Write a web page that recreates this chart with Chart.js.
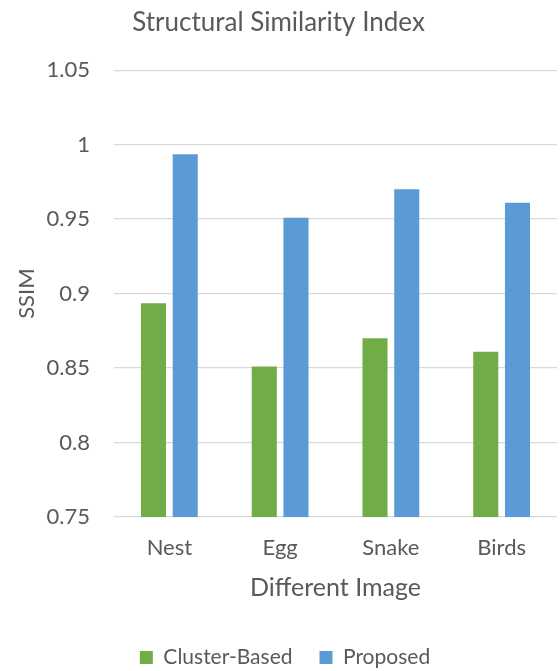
<!DOCTYPE html>
<html>
<head>
<meta charset="utf-8">
<script src="https://cdn.jsdelivr.net/npm/chart.js@4"></script>
<style>
  html, body { margin: 0; padding: 0; background: #ffffff; }
  #wrap { width: 560px; height: 671px; position: relative; }
</style>
</head>
<body>
<div id="wrap"><canvas id="c" width="560" height="671"></canvas></div>
<script>
// Image categories along the x axis
const categories = ['Nest', 'Egg', 'Snake', 'Birds'];
// SSIM per method
const clusterBased = [0.8935, 0.851, 0.870, 0.861];
const proposed = [0.9935, 0.951, 0.970, 0.961];
// Y axis range and step
const yTicks = { min: 0.75, max: 1.05, step: 0.05 };

const textColor = '#595959';
const fontFamily = 'Lato, "Open Sans", sans-serif';

// Keep the bottom legend compact (wide gaps between items) and centred under the plot
const legendBox = {
  id: 'legendBox',
  beforeLayout(chart) {
    const lg = chart.legend;
    if (lg && !lg._fixedFit) {
      const fit = lg.fit.bind(lg);
      lg.fit = function () { fit(); this.height = 51; };
      lg._fixedFit = true;
    }
  },
  afterLayout(chart) {
    const lg = chart.legend;
    if (lg) { lg.left += 13; }
  }
};

new Chart(document.getElementById('c'), {
  type: 'bar',
  data: {
    labels: categories,
    datasets: [
      { label: 'Cluster-Based', data: clusterBased, backgroundColor: '#70AD47',
        categoryPercentage: 0.573, barPercentage: 0.79 },
      { label: 'Proposed', data: proposed, backgroundColor: '#5B9BD5',
        categoryPercentage: 0.573, barPercentage: 0.79 }
    ]
  },
  plugins: [legendBox],
  options: {
    responsive: false,
    animation: false,
    layout: { padding: { left: 0, right: 3, top: 0, bottom: 0 } },
    plugins: {
      title: {
        display: true,
        text: 'Structural Similarity Index',
        color: textColor,
        font: { family: fontFamily, size: 26, weight: 'normal' },
        padding: { top: 7, bottom: 32 }
      },
      legend: {
        position: 'bottom',
        labels: {
          color: textColor,
          font: { family: fontFamily, size: 21 },
          boxWidth: 13, boxHeight: 13,
          padding: 27
        }
      },
      tooltip: { enabled: false }
    },
    scales: {
      x: {
        grid: { display: false, drawTicks: false },
        border: { display: false },
        ticks: { color: textColor, font: { family: fontFamily, size: 22 }, padding: 18 },
        title: {
          display: true, text: 'Different Image', color: textColor,
          font: { family: fontFamily, size: 25 }, padding: { top: 4, bottom: 17 }
        },
        afterFit: s => { s.height = 103; }
      },
      y: {
        min: yTicks.min, max: yTicks.max,
        grid: { color: '#D9D9D9', lineWidth: 1.3, drawTicks: false },
        border: { display: false },
        ticks: {
          stepSize: yTicks.step, color: textColor,
          font: { family: fontFamily, size: 22 }, padding: 24,
          callback: v => String(Math.round(v * 100) / 100)
        },
        title: {
          display: true, text: 'SSIM', color: textColor,
          font: { family: fontFamily, size: 22 }, padding: { top: 14, bottom: 0 }
        },
        afterFit: s => { s.width = 114; }
      }
    }
  }
});
</script>
</body>
</html>
